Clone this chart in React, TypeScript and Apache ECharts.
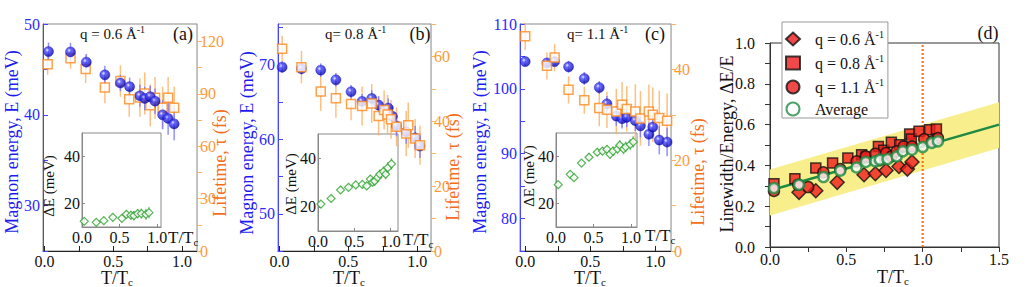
import { useEffect, useRef } from 'react';
import * as echarts from 'echarts';

const FONT = 'Liberation Serif';

// ---------- panel (a) q = 0.6 ----------
const aBlueT = [0.03, 0.19, 0.305, 0.44, 0.553, 0.62, 0.695, 0.73, 0.77, 0.805, 0.86, 0.9, 0.944];
const aBlueE = [46.96, 46.93, 45.8, 44.4, 43.5, 43.1, 42.1, 41.8, 42.0, 41.5, 40.0, 39.6, 39.0];
const aBlueErr = [1.0, 1.0, 0.9, 1.0, 0.9, 1.0, 1.2, 1.3, 1.2, 1.4, 1.6, 1.8, 1.8];
const aSqT = [0.024, 0.19, 0.3, 0.44, 0.553, 0.617, 0.695, 0.73, 0.77, 0.805, 0.86, 0.9, 0.944];
const aTau = [106.9, 110.4, 104.2, 93.6, 97.3, 86.9, 87.9, 90.2, 83.4, 87.7, 82.1, 87.7, 82.1];
const aTauErr = [6, 6, 8, 9, 9, 10, 11, 12, 12, 12, 12, 12, 12];
const aInsetT = [0.03, 0.19, 0.29, 0.41, 0.53, 0.59, 0.65, 0.69, 0.74, 0.79, 0.85, 0.89];
const aInsetDE = [12.4, 12.0, 12.7, 14.1, 13.7, 15.4, 15.0, 14.8, 15.7, 15.7, 15.4, 16.1];
const aInsetErr = [1.5, 1.5, 1.5, 1.6, 1.6, 1.8, 1.8, 2.0, 2.0, 2.2, 2.4, 2.5];

// ---------- panel (b) q = 0.8 ----------
const bBlueT = [0.02, 0.16, 0.3, 0.41, 0.52, 0.6, 0.67, 0.72, 0.79, 0.82, 0.85, 0.92, 0.985, 1.02];
const bBlueE = [69.7, 69.5, 69.3, 68.0, 66.4, 65.1, 65.5, 64.6, 64.2, 63.1, 61.8, 61.0, 60.2, 59.1];
const bBlueErr = [0.8, 0.8, 0.9, 0.9, 0.9, 1.0, 1.1, 1.2, 1.3, 1.4, 1.4, 1.6, 1.6, 1.6];
const bSqT = [0.02, 0.16, 0.3, 0.41, 0.52, 0.6, 0.67, 0.72, 0.76, 0.785, 0.81, 0.85, 0.92, 0.935, 0.985, 1.02];
const bTau = [62.4, 56.7, 49.2, 47.1, 45.3, 44.7, 45.5, 41.6, 43.5, 42.1, 40.6, 38.3, 36.2, 38.8, 34.7, 32.6];
const bTauErr = [4, 5, 6, 6, 5, 6, 6, 6, 6, 6, 6, 6, 7, 7, 6, 6];
const bInsetT = [0.04, 0.18, 0.31, 0.42, 0.52, 0.61, 0.67, 0.72, 0.75, 0.78, 0.82, 0.85, 0.9, 0.93, 0.96, 1.01];
const bInsetDE = [21.1, 23.4, 26.9, 28.0, 29.0, 29.2, 28.6, 31.4, 30.1, 30.6, 32.1, 33.4, 34.5, 33.4, 36.1, 37.7];
const bInsetErr = [1.2, 1.3, 1.4, 1.5, 1.5, 1.6, 1.7, 1.8, 1.8, 1.9, 2.0, 2.0, 2.2, 2.2, 2.4, 2.4];

// ---------- panel (c) q = 1.1 ----------
const cBlueT = [0.0, 0.167, 0.226, 0.333, 0.454, 0.569, 0.628, 0.7, 0.744, 0.78, 0.846, 0.885, 0.95, 0.98, 1.03, 1.09];
const cBlueE = [104.2, 104.0, 104.2, 103.4, 101.6, 100.2, 97.7, 95.8, 95.4, 95.6, 95.1, 94.3, 93.0, 94.1, 92.1, 91.8];
const cBlueErr = [0.7, 0.7, 0.7, 0.9, 1.0, 1.0, 1.2, 1.5, 1.5, 1.5, 1.6, 1.8, 1.8, 1.8, 2.2, 2.2];
const cTau = [47.3, 40.8, 42.6, 35.5, 33.2, 31.5, 31.1, 30.7, 32.2, 31.3, 30.7, 29.2, 30.7, 30.0, 29.3, 28.7];
const cTauErr = [3, 3, 3, 3, 3, 4, 4, 5, 5, 5, 6, 6, 6, 6, 6, 6];
const cInsetT = [0.03, 0.19, 0.24, 0.34, 0.44, 0.55, 0.62, 0.68, 0.72, 0.76, 0.82, 0.85, 0.9, 0.93, 0.99, 1.03];
const cInsetDE = [28.0, 32.4, 31.0, 37.2, 39.7, 41.8, 42.3, 43.0, 41.0, 42.3, 43.2, 44.8, 43.2, 44.1, 45.1, 46.2];
const cInsetErr = [1.2, 1.4, 1.4, 1.5, 1.6, 1.7, 1.8, 1.9, 2.0, 2.0, 2.1, 2.2, 2.3, 2.3, 2.4, 2.5];

// ---------- panel (d) ----------
const dDiaT = [0.19, 0.3, 0.44, 0.616, 0.69, 0.76, 0.845, 0.9, 0.93];
const dDiaV = [0.268, 0.276, 0.317, 0.354, 0.359, 0.375, 0.395, 0.382, 0.417];
const dSqT = [0.026, 0.163, 0.3, 0.41, 0.51, 0.6, 0.63, 0.71, 0.745, 0.795, 0.85, 0.915, 0.926, 0.976, 1.046, 1.09];
const dSqV = [0.31, 0.335, 0.387, 0.412, 0.436, 0.452, 0.441, 0.493, 0.474, 0.513, 0.501, 0.554, 0.529, 0.567, 0.575, 0.578];
const dCirT = [0.026, 0.185, 0.25, 0.35, 0.46, 0.567, 0.627, 0.69, 0.715, 0.76, 0.795, 0.83, 0.876, 0.93, 1.01, 1.063, 1.1];
const dCirV = [0.275, 0.305, 0.294, 0.366, 0.382, 0.42, 0.444, 0.457, 0.425, 0.461, 0.444, 0.469, 0.493, 0.493, 0.529, 0.518, 0.534];
const dAvgT = [0.026, 0.19, 0.35, 0.46, 0.567, 0.627, 0.69, 0.72, 0.77, 0.83, 0.87, 0.93, 1.0, 1.06, 1.1];
const dAvgV = [0.289, 0.305, 0.343, 0.374, 0.39, 0.417, 0.42, 0.428, 0.431, 0.444, 0.469, 0.477, 0.49, 0.51, 0.518];
const fitT = [0, 1.5];
const fitV = [0.277, 0.6];
const bandUpper = [0.38, 0.71];
const bandLower = [0.155, 0.485];
const tcLine = 1.0;

// ---------- ticks ----------
const mainXLabels = [0, 0.5, 1.0];
const mainXTicks = [0, 0.25, 0.5, 0.75, 1.0];
const aLeftLabels = [30, 40, 50];
const aLeftTicks = [25, 30, 35, 40, 45, 50];
const aRightLabels = [0, 30, 60, 90, 120];
const aRightTicks = [0, 15, 30, 45, 60, 75, 90, 105, 120];
const bLeftLabels = [50, 60, 70];
const bLeftTicks = [45, 50, 55, 60, 65, 70, 75];
const bRightLabels = [0, 20, 40, 60];
const bRightTicks = [0, 10, 20, 30, 40, 50, 60, 70];
const cLeftLabels = [80, 90, 100, 110];
const cLeftTicks = [75, 80, 85, 90, 95, 100, 105, 110];
const cRightLabels = [0, 20, 40];
const cRightTicks = [0, 10, 20, 30, 40, 50];
const dXLabels = [0, 0.5, 1.0, 1.5];
const dXTicks = [0, 0.25, 0.5, 0.75, 1.0, 1.25, 1.5];
const dYLabels = [0, 0.2, 0.4, 0.6, 0.8, 1.0];
const dYTicks = [0, 0.1, 0.2, 0.3, 0.4, 0.5, 0.6, 0.7, 0.8, 0.9, 1.0];
const insetXLabels = [0, 0.5, 1.0];
const insetYLabels = [20, 40];

const BLUE = '#2a2aff';
const BLUE_NAME = '#1c1cf0';
const ORANGE = '#ff9a33';
const ORANGE_NAME = '#f56e20';
const TICK_FS = 16;

function xAx(gridIndex: number, min: number, max: number, labels: number[], ticks: number[], opts: any = {}) {
  return {
    type: 'value', gridIndex, min, max,
    axisLine: { show: true, onZero: false, lineStyle: { color: opts.lineColor || '#222', width: 1 } },
    axisTick: { show: true, inside: opts.inside !== false, length: opts.tickLen || 5, customValues: ticks, lineStyle: { color: opts.lineColor || '#222' } },
    axisLabel: {
      customValues: labels, formatter: (v: number) => v.toFixed(1),
      fontFamily: FONT, fontSize: opts.fs || TICK_FS, lineHeight: 12, color: '#111', margin: opts.margin ?? 4,
    },
    splitLine: { show: false },
  };
}

function yAx(gridIndex: number, min: number, max: number, position: string, labels: number[], ticks: number[], lineColor: string, labelColor: string, opts: any = {}) {
  return {
    type: 'value', gridIndex, min, max, position,
    axisLine: { show: true, onZero: false, lineStyle: { color: lineColor, width: 1 } },
    axisTick: { show: true, inside: opts.inside !== false, length: opts.tickLen || 5, customValues: ticks, lineStyle: { color: lineColor } },
    axisLabel: {
      customValues: labels, formatter: opts.fmt || ((v: number) => String(v)),
      fontFamily: FONT, fontSize: opts.fs || TICK_FS, color: labelColor, margin: opts.margin ?? 3,
    },
    splitLine: { show: false },
  };
}

function errBars(xi: number, yi: number, xs: number[], ys: number[], es: number[], color: string) {
  return {
    type: 'custom', xAxisIndex: xi, yAxisIndex: yi, silent: true, z: 1, clip: false,
    data: xs.map((x, i) => [x, ys[i] - es[i], ys[i] + es[i]]),
    encode: { x: 0, y: [1, 2] },
    renderItem: (_p: any, api: any) => {
      const a = api.coord([api.value(0), api.value(1)]);
      const b = api.coord([api.value(0), api.value(2)]);
      return { type: 'line', shape: { x1: a[0], y1: a[1], x2: b[0], y2: b[1] }, style: { stroke: color, lineWidth: 1.5 } };
    },
  };
}

function scat(xi: number, yi: number, xs: number[], ys: number[], symbol: string, size: number, itemStyle: any, z = 3, name?: string) {
  const s: any = {
    type: 'scatter', xAxisIndex: xi, yAxisIndex: yi, symbol, symbolSize: size, z,
    data: xs.map((x, i) => [x, ys[i]]), itemStyle, silent: true,
  };
  if (name) s.name = name;
  return s;
}

const blueBall = {
  type: 'radial', x: 0.38, y: 0.35, r: 0.65,
  colorStops: [
    { offset: 0, color: '#f0f0ff' },
    { offset: 0.3, color: '#4a4aff' },
    { offset: 1, color: '#0000a8' },
  ],
};
const blueStyle = { color: blueBall, borderColor: '#1010c0', borderWidth: 0.5 };
const sqStyle = { color: '#fff', borderColor: '#ff8a1a', borderWidth: 1.5 };
const diaStyle = { color: '#fff', borderColor: '#2ea02e', borderWidth: 1.2 };

const sub = (fs: number) => ({
  b: { fontSize: fs, fontFamily: FONT, lineHeight: 12, verticalAlign: 'top' },
  s: { fontSize: 11, fontFamily: FONT, lineHeight: 8, padding: [7, 0, 0, 0], verticalAlign: 'top' },
});
const sup = (fs: number) => ({
  b: { fontSize: fs, fontFamily: FONT, lineHeight: fs + 4, verticalAlign: 'middle' },
  p: { fontSize: Math.round(fs * 0.65), fontFamily: FONT, lineHeight: Math.round(fs * 0.65), verticalAlign: 'top' },
});

function txt(x: number, y: number, text: string, opts: any = {}) {
  return {
    type: 'text', x, y, rotation: opts.rotation || 0, z: 10,
    style: {
      text, fill: opts.color || '#111', fontFamily: FONT, fontSize: opts.fs || 18,
      align: opts.align || 'center', verticalAlign: 'middle', rich: opts.rich,
    },
  };
}

function buildOption() {
  const grids = [
    { left: 43, top: 24, width: 154, height: 227 },
    { left: 278, top: 24, width: 153, height: 227 },
    { left: 520, top: 24, width: 151, height: 227 },
    { left: 770, top: 43, width: 229, height: 204 },
    { left: 82, top: 133, width: 79, height: 94 },
    { left: 318, top: 134, width: 80, height: 97 },
    { left: 556, top: 133, width: 81, height: 94 },
  ].map((g, i) => ({
    ...g, containLabel: false, show: true,
    borderColor: i === 3 ? '#333' : '#8a8a8a', borderWidth: 1,
    backgroundColor: i >= 4 ? '#fff' : 'transparent',
  }));

  const xAxis = [
    xAx(0, -0.01, 1.11, mainXLabels, mainXTicks),
    xAx(1, -0.01, 1.1, mainXLabels, mainXTicks),
    xAx(2, -0.04, 1.12, mainXLabels, mainXTicks),
    xAx(3, 0, 1.5, dXLabels, dXTicks, { inside: false, lineColor: '#333', margin: 6 }),
    xAx(4, 0, 1.05, insetXLabels, insetXLabels, { lineColor: '#888', margin: 4, tickLen: 3 }),
    xAx(5, 0, 1.1, insetXLabels, insetXLabels, { lineColor: '#888', margin: 4, tickLen: 3 }),
    xAx(6, 0, 1.08, insetXLabels, insetXLabels, { lineColor: '#888', margin: 4, tickLen: 3 }),
  ];

  const yAxis = [
    yAx(0, 25, 50, 'left', aLeftLabels, aLeftTicks, '#4646ff', BLUE),
    yAx(0, 0, 130, 'right', aRightLabels, aRightTicks, '#ffb060', ORANGE, { inside: false }),
    yAx(1, 45, 75.5, 'left', bLeftLabels, bLeftTicks, '#4646ff', BLUE),
    yAx(1, 0, 70, 'right', bRightLabels, bRightTicks, '#ffb060', ORANGE, { inside: false }),
    yAx(2, 75, 110, 'left', cLeftLabels, cLeftTicks, '#4646ff', BLUE),
    yAx(2, 0, 50, 'right', cRightLabels, cRightTicks, '#ffb060', ORANGE, { inside: false }),
    yAx(3, 0, 1.0, 'left', dYLabels, dYTicks, '#333', '#111', { inside: false, margin: 15, fmt: (v: number) => v.toFixed(1) }),
    yAx(4, 10, 50, 'left', insetYLabels, insetYLabels, '#888', '#111', { tickLen: 3, margin: 2 }),
    yAx(5, 10, 50, 'left', insetYLabels, insetYLabels, '#888', '#111', { tickLen: 3, margin: 2 }),
    yAx(6, 10, 50, 'left', insetYLabels, insetYLabels, '#888', '#111', { tickLen: 3, margin: 2 }),
  ];

  const blueErr = 'rgba(110,110,255,0.75)';
  const orErr = 'rgba(255,170,90,0.75)';
  const grErr = 'rgba(120,200,120,0.8)';

  const series: any[] = [
    // (a)
    errBars(0, 1, aSqT, aTau, aTauErr, orErr),
    errBars(0, 0, aBlueT, aBlueE, aBlueErr, blueErr),
    scat(0, 1, aSqT, aTau, 'rect', 9, sqStyle, 3),
    scat(0, 0, aBlueT, aBlueE, 'circle', 10, blueStyle, 4),
    // (b)
    errBars(1, 3, bSqT, bTau, bTauErr, orErr),
    errBars(1, 2, bBlueT, bBlueE, bBlueErr, blueErr),
    scat(1, 2, bBlueT, bBlueE, 'circle', 10, blueStyle, 3),
    scat(1, 3, bSqT, bTau, 'rect', 9, sqStyle, 4),
    // (c)
    errBars(2, 5, cBlueT, cTau, cTauErr, orErr),
    errBars(2, 4, cBlueT, cBlueE, cBlueErr, blueErr),
    scat(2, 4, cBlueT, cBlueE, 'circle', 10, blueStyle, 3),
    scat(2, 5, cBlueT, cTau, 'rect', 9, sqStyle, 4),
    // insets
    errBars(4, 7, aInsetT, aInsetDE, aInsetErr, grErr),
    scat(4, 7, aInsetT, aInsetDE, 'diamond', 8, diaStyle, 3),
    errBars(5, 8, bInsetT, bInsetDE, bInsetErr, grErr),
    scat(5, 8, bInsetT, bInsetDE, 'diamond', 8, diaStyle, 3),
    errBars(6, 9, cInsetT, cInsetDE, cInsetErr, grErr),
    scat(6, 9, cInsetT, cInsetDE, 'diamond', 8, diaStyle, 3),
    // (d) band
    {
      type: 'custom', xAxisIndex: 3, yAxisIndex: 6, silent: true, z: 1,
      data: fitT.map((x, i) => [x, bandLower[i], bandUpper[i]]),
      encode: { x: 0, y: [1, 2] },
      renderItem: (p: any, api: any) => {
        if (p.dataIndex !== 0) return null;
        const up = fitT.map((x, i) => api.coord([x, bandUpper[i]]));
        const lo = fitT.map((x, i) => api.coord([x, bandLower[i]])).reverse();
        return { type: 'polygon', shape: { points: [...up, ...lo] }, style: { fill: '#f8ee8c' } };
      },
    },
    {
      type: 'line', xAxisIndex: 3, yAxisIndex: 6, silent: true, z: 2, symbol: 'none',
      data: [[tcLine, 0], [tcLine, 1.0]],
      lineStyle: { color: '#f27a1a', width: 2.2, type: [2, 2] },
    },
    {
      type: 'line', xAxisIndex: 3, yAxisIndex: 6, silent: true, z: 2, symbol: 'none',
      data: fitT.map((x, i) => [x, fitV[i]]),
      lineStyle: { color: '#1f8a42', width: 2.5 },
    },
    scat(3, 6, dDiaT, dDiaV, 'diamond', 14, { color: '#ee1c1c', borderColor: '#111', borderWidth: 1.5 }, 3, 'q06'),
    scat(3, 6, dSqT, dSqV, 'rect', 10, { color: '#ee1c1c', borderColor: '#111', borderWidth: 1.5 }, 3, 'q08'),
    scat(3, 6, dCirT, dCirV, 'circle', 11, { color: '#ee1c1c', borderColor: '#111', borderWidth: 1.5 }, 3, 'q11'),
    scat(3, 6, dAvgT, dAvgV, 'circle', 10, { color: '#fff', borderColor: '#1f8a42', borderWidth: 2.5 }, 5, 'Average'),
  ];

  const legendText: Record<string, string> = {
    q06: '{b|q = 0.6 Å}{p|-1}',
    q08: '{b|q = 0.8 Å}{p|-1}',
    q11: '{b|q = 1.1 Å}{p|-1}',
    Average: '{b|Average}',
  };

  const graphic: any[] = [
    txt(12, 142, 'Magnon energy, E (meV)', { rotation: Math.PI / 2, color: BLUE_NAME }),
    txt(247, 143, 'Magnon energy, E (meV)', { rotation: Math.PI / 2, color: BLUE_NAME }),
    txt(480, 142, 'Magnon energy, E (meV)', { rotation: Math.PI / 2, color: BLUE_NAME }),
    txt(220, 163, 'Lifetime, τ (fs)', { rotation: Math.PI / 2, color: ORANGE_NAME }),
    txt(453, 167, 'Lifetime, τ (fs)', { rotation: Math.PI / 2, color: ORANGE_NAME }),
    txt(698, 172, 'Lifetime, τ (fs)', { rotation: Math.PI / 2, color: ORANGE_NAME }),
    txt(727, 144, 'Linewidth/Energy, ΔE/E', { rotation: Math.PI / 2 }),
    txt(117, 275, '{b|T/T}{s|c}', { rich: sub(18) }),
    txt(349, 275, '{b|T/T}{s|c}', { rich: sub(18) }),
    txt(590, 275, '{b|T/T}{s|c}', { rich: sub(18) }),
    txt(893, 274, '{b|T/T}{s|c}', { rich: sub(18) }),
    txt(168, 235, '{b|T/T}{s|c}', { rich: sub(17), align: 'left' }),
    txt(403, 237, '{b|T/T}{s|c}', { rich: sub(17), align: 'left' }),
    txt(645, 233, '{b|T/T}{s|c}', { rich: sub(17), align: 'left' }),
    txt(49, 186, 'ΔE (meV)', { rotation: Math.PI / 2, fs: 15 }),
    txt(291, 184, 'ΔE (meV)', { rotation: Math.PI / 2, fs: 15 }),
    txt(529, 176, 'ΔE (meV)', { rotation: Math.PI / 2, fs: 15 }),
    txt(80, 34, '{b|q = 0.6 Å}{p|-1}', { rich: sup(15), align: 'left' }),
    txt(325, 34, '{b|q= 0.8 Å}{p|-1}', { rich: sup(15), align: 'left' }),
    txt(567, 34, '{b|q= 1.1 Å}{p|-1}', { rich: sup(15), align: 'left' }),
    txt(183, 34, '(a)', { fs: 18 }),
    txt(420, 34, '(b)', { fs: 18 }),
    txt(655, 34, '(c)', { fs: 18 }),
    txt(988, 33, '(d)', { fs: 18 }),
  ];

  return {
    animation: false,
    backgroundColor: '#fff',
    grid: grids,
    xAxis,
    yAxis,
    series,
    legend: {
      data: ['q06', 'q08', 'q11', 'Average'],
      orient: 'vertical', left: 782, top: 22,
      itemWidth: 14, itemHeight: 13, itemGap: 6,
      backgroundColor: '#fff', borderColor: '#999', borderWidth: 1, borderRadius: 0,
      padding: [7, 4, 1, 3],
      selectedMode: false,
      textStyle: { fontFamily: FONT, fontSize: 16, color: '#111', padding: [0, 0, 0, 10], rich: sup(16) },
      formatter: (name: string) => legendText[name] || name,
      z: 8,
    },
    graphic,
  };
}

export default function App() {
  const ref = useRef<HTMLDivElement>(null);
  useEffect(() => {
    const chart = echarts.init(ref.current!, null, { renderer: 'svg' });
    chart.setOption(buildOption() as any);
    return () => chart.dispose();
  }, []);
  return (
    <div
      ref={ref}
      style={{ position: 'fixed', left: 0, top: 0, width: 1031, height: 287, background: '#fff' }}
    />
  );
}
